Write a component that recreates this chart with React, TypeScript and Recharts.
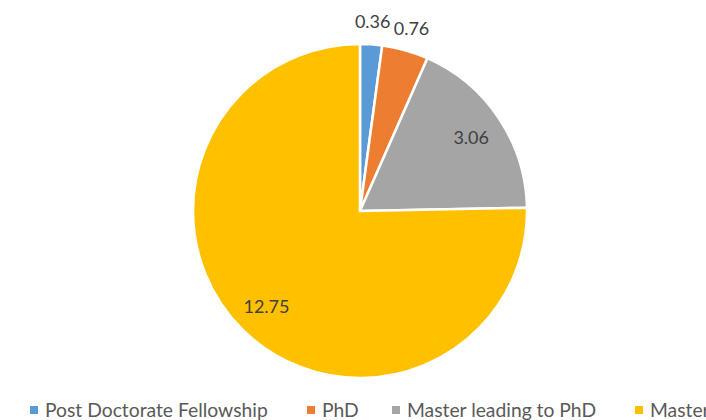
import React from 'react';
import { PieChart, Pie, Cell } from 'recharts';

const categories = ['Post Doctorate Fellowship', 'PhD', 'Master leading to PhD', 'Master'];
const values = [0.36, 0.76, 3.06, 12.75];
const COLORS = ['#5B9BD5', '#ED7D31', '#A5A5A5', '#FFC000'];

const data = categories.map((name, i) => ({ name, value: values[i] }));

const RADIAN = Math.PI / 180;
const FONT = 'Lato, "Open Sans", sans-serif';

const renderLabel = (props: any) => {
  const { cx, cy, midAngle, outerRadius, value } = props;
  // small slices get labels outside, big ones inside
  const r = value < 1 ? outerRadius + 23 : outerRadius * 0.8;
  const x = cx + r * Math.cos(-midAngle * RADIAN);
  const y = cy + r * Math.sin(-midAngle * RADIAN);
  return (
    <text x={x} y={y} fill="#404040" fontSize={18} fontFamily={FONT} textAnchor="middle" dominantBaseline="central">
      {value.toFixed(2)}
    </text>
  );
};

const legendLefts = [30, 307, 392, 635];

export default function App() {
  return (
    <div style={{ position: 'fixed', top: 0, left: 0, width: 706, height: 420, overflow: 'hidden', background: '#fff' }}>
      <PieChart width={706} height={420} margin={{ top: 0, right: 0, bottom: 0, left: 0 }}>
        <Pie
          data={data}
          dataKey="value"
          nameKey="name"
          cx={360}
          cy={211}
          outerRadius={167}
          startAngle={90}
          endAngle={-270}
          stroke="#ffffff"
          strokeWidth={2.5}
          labelLine={false}
          label={renderLabel}
          isAnimationActive={false}
        >
          {data.map((entry, index) => (
            <Cell key={`cell-${index}`} fill={COLORS[index]} />
          ))}
        </Pie>
      </PieChart>
      {categories.map((name, i) => (
        <div
          key={name}
          style={{
            position: 'absolute',
            left: legendLefts[i],
            top: 400,
            height: 20,
            lineHeight: '20px',
            whiteSpace: 'nowrap',
            fontFamily: FONT,
            fontSize: 19.3,
            color: '#595959',
          }}
        >
          <span
            style={{
              display: 'inline-block',
              width: 8,
              height: 8,
              background: COLORS[i],
              marginRight: 7,
              verticalAlign: 'middle',
              position: 'relative',
              top: -2,
            }}
          />
          {name}
        </div>
      ))}
    </div>
  );
}
